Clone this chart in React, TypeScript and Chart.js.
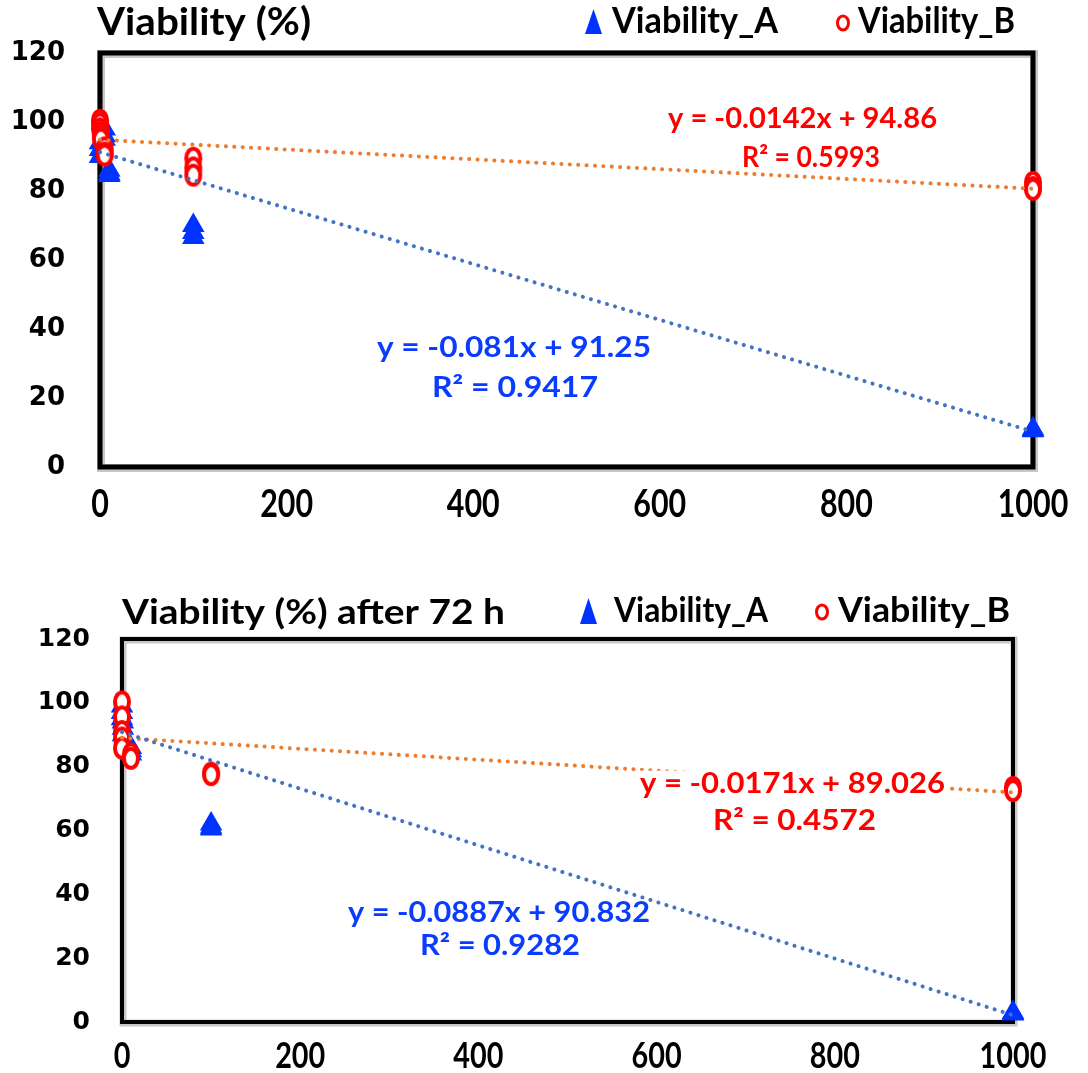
import React, { useEffect, useRef } from "react";
import { Chart, registerables } from "chart.js";
Chart.register(...registerables);

// ---------- Panel 1: Viability (%) ----------
const X_A_1 = [0, 0, 0, 5, 5, 5, 10, 10, 10, 100, 100, 100, 1000, 1000, 1000];
const Y_A_1 = [90, 92, 94, 98, 96, 95, 86, 85, 84.5, 70, 68, 66.5, 11, 10.5, 10.8];
const X_B_1 = [0, 0, 0, 1, 1, 1, 5, 5, 5, 100, 100, 100, 1000, 1000, 1000];
const Y_B_1 = [100.5, 99.5, 98, 97, 96, 95, 92.5, 91, 90.4, 89.5, 86.7, 84.6, 82.5, 81, 80.5];
const TREND_SLOPE_1 = [-0.081, -0.0142];
const TREND_INTERCEPT_1 = [91.25, 94.86];
const EQ_TEXT_1 = ["y = -0.081x + 91.25", "R² = 0.9417", "y = -0.0142x + 94.86", "R² = 0.5993"];

// ---------- Panel 2: Viability (%) after 72 h ----------
const X_A_2 = [0, 0, 0, 1, 1, 1, 10, 10, 10, 100, 100, 100, 1000, 1000, 1000];
const Y_A_2 = [99, 97, 95, 94, 92, 90, 86, 85, 84, 62, 61, 60.5, 3, 2.5, 2.8];
const X_B_2 = [0, 0, 0, 0, 0, 10, 10, 100, 100, 1000, 1000];
const Y_B_2 = [100.3, 95.6, 91, 89, 85.8, 84, 82.6, 78, 77.5, 73.5, 72.5];
const TREND_SLOPE_2 = [-0.0887, -0.0171];
const TREND_INTERCEPT_2 = [90.832, 89.026];
const EQ_TEXT_2 = ["y = -0.0887x + 90.832", "R² = 0.9282", "y = -0.0171x + 89.026", "R² = 0.4572"];

// ---------- Axes ----------
const X_MIN = 0;
const X_MAX = 1000;
const X_STEP = 200;
const Y_MIN = 0;
const Y_MAX = 120;
const Y_STEP = 20;

const TITLES = ["Viability (%)", "Viability (%) after 72 h"];
const LEGEND_LABELS = ["Viability_A", "Viability_B"];

const BLUE = "#0033FF";
const RED = "#FF0000";
const TREND_BLUE = "#4472C4";
const TREND_ORANGE = "#ED7D31";
const EQ_BLUE = "#0A3CFF";

const FIT_FONT = '"Lato", "Liberation Sans", sans-serif';

type Layout = {
  top: number;
  height: number;
  plotLeft: number;
  plotRight: number;
  plotTop: number;
  plotBottom: number;
  yPad: number;
  yFont: number;
  xBase: number;
  xFont: number;
  xScale: number;
  frame: number;
  title: { x: number; base: number; w: number; size: number };
  legA: { tri: [number, number, number, number]; x: number; base: number; w: number; size: number };
  legB: { cx: number; cy: number; rx: number; ry: number; x: number; base: number; w: number; size: number };
  eq: { x: number; base: number; w: number; size: number; bg: boolean }[];
};

const LAYOUTS: Layout[] = [
  {
    top: 0,
    height: 540,
    plotLeft: 100,
    plotRight: 1033,
    plotTop: 53,
    plotBottom: 467,
    yPad: 35,
    yFont: 26,
    xBase: 517,
    xFont: 38,
    xScale: 0.8,
    frame: 5,
    title: { x: 97, base: 35, w: 214, size: 38 },
    legA: { tri: [585, 9, 602, 34], x: 612, base: 33, w: 166, size: 36 },
    legB: { cx: 843, cy: 23, rx: 5.5, ry: 7, x: 858, base: 33, w: 157, size: 36 },
    eq: [
      { x: 377, base: 357, w: 274, size: 28, bg: false },
      { x: 432, base: 397, w: 166, size: 28, bg: false },
      { x: 668, base: 128, w: 269, size: 28, bg: false },
      { x: 742, base: 167, w: 138, size: 28, bg: false },
    ],
  },
  {
    top: 540,
    height: 533,
    plotLeft: 122,
    plotRight: 1013,
    plotTop: 639,
    plotBottom: 1022,
    yPad: 32,
    yFont: 25,
    xBase: 1068,
    xFont: 36,
    xScale: 0.8,
    frame: 4,
    title: { x: 122, base: 624, w: 383, size: 35 },
    legA: { tri: [580, 598, 597, 624], x: 614, base: 622, w: 154, size: 34 },
    legB: { cx: 822, cy: 612, rx: 5.5, ry: 7, x: 838, base: 622, w: 172, size: 34 },
    eq: [
      { x: 348, base: 922, w: 302, size: 28, bg: false },
      { x: 420, base: 955, w: 160, size: 28, bg: false },
      { x: 640, base: 793, w: 305, size: 28, bg: true },
      { x: 713, base: 830, w: 163, size: 28, bg: false },
    ],
  },
];

function drawFit(ctx: CanvasRenderingContext2D, text: string, x: number, base: number, w: number, size: number, color: string, bg = false) {
  ctx.save();
  ctx.font = `bold ${size}px ${FIT_FONT}`;
  const m = ctx.measureText(text).width;
  if (bg) {
    ctx.fillStyle = "#FFFFFF";
    ctx.fillRect(x - 4, base - size * 0.8, w + 8, size * 1.05);
  }
  ctx.translate(x, base);
  ctx.scale(w / m, 1);
  ctx.fillStyle = color;
  ctx.textAlign = "left";
  ctx.textBaseline = "alphabetic";
  ctx.fillText(text, 0, 0);
  ctx.restore();
}

function makeRing(): HTMLCanvasElement {
  const c = document.createElement("canvas");
  c.width = 20;
  c.height = 25;
  const g = c.getContext("2d") as CanvasRenderingContext2D;
  g.fillStyle = "#FFFFFF";
  g.strokeStyle = RED;
  g.lineWidth = 4;
  g.beginPath();
  g.ellipse(10, 12.5, 7, 9.5, 0, 0, Math.PI * 2);
  g.fill();
  g.stroke();
  return c;
}

function pts(xs: number[], ys: number[]) {
  return xs.map((x, i) => ({ x, y: ys[i] }));
}

function trend(slope: number, intercept: number) {
  return [X_MIN, X_MAX].map((x) => ({ x, y: intercept + slope * x }));
}

function Panel({ idx }: { idx: number }) {
  const ref = useRef<HTMLCanvasElement | null>(null);
  useEffect(() => {
    const L = LAYOUTS[idx];
    const xa = idx === 0 ? X_A_1 : X_A_2;
    const ya = idx === 0 ? Y_A_1 : Y_A_2;
    const xb = idx === 0 ? X_B_1 : X_B_2;
    const yb = idx === 0 ? Y_B_1 : Y_B_2;
    const slopes = idx === 0 ? TREND_SLOPE_1 : TREND_SLOPE_2;
    const inters = idx === 0 ? TREND_INTERCEPT_1 : TREND_INTERCEPT_2;
    const eqText = idx === 0 ? EQ_TEXT_1 : EQ_TEXT_2;
    const off = L.top;
    const ring = makeRing();

    const framePlugin = {
      id: "frame" + idx,
      beforeDatasetsDraw(chart: any) {
        const { ctx, chartArea: a } = chart;
        ctx.save();
        ctx.strokeStyle = "rgba(0,0,0,0.22)";
        ctx.lineWidth = L.frame + 3;
        ctx.strokeRect(a.left + 1, a.top + 1, a.right - a.left, a.bottom - a.top);
        ctx.strokeStyle = "#000";
        ctx.lineWidth = L.frame;
        ctx.strokeRect(a.left, a.top, a.right - a.left, a.bottom - a.top);
        ctx.restore();
      },
      afterDatasetsDraw(chart: any) {
        const ctx = chart.ctx as CanvasRenderingContext2D;
        // x tick labels (from the library's own x scale ticks)
        const xs = chart.scales.x;
        xs.ticks.forEach((t: any) => {
          const px = xs.getPixelForValue(t.value);
          ctx.save();
          ctx.font = `bold ${L.xFont}px ${FIT_FONT}`;
          ctx.translate(px, L.xBase - off);
          ctx.scale(L.xScale, 1);
          ctx.fillStyle = "#000";
          ctx.textAlign = "center";
          ctx.textBaseline = "alphabetic";
          ctx.fillText(String(t.value), 0, 0);
          ctx.restore();
        });
        // title
        drawFit(ctx, TITLES[idx], L.title.x, L.title.base - off, L.title.w, L.title.size, "#000");
        // legend A
        const [x1, y1, x2, y2] = L.legA.tri;
        ctx.save();
        ctx.fillStyle = BLUE;
        ctx.beginPath();
        ctx.moveTo((x1 + x2) / 2, y1 - off);
        ctx.lineTo(x2, y2 - off);
        ctx.lineTo(x1, y2 - off);
        ctx.closePath();
        ctx.fill();
        ctx.restore();
        drawFit(ctx, LEGEND_LABELS[0], L.legA.x, L.legA.base - off, L.legA.w, L.legA.size, "#000");
        // legend B
        ctx.save();
        ctx.strokeStyle = RED;
        ctx.lineWidth = 3;
        ctx.beginPath();
        ctx.ellipse(L.legB.cx, L.legB.cy - off, L.legB.rx, L.legB.ry, 0, 0, Math.PI * 2);
        ctx.stroke();
        ctx.restore();
        drawFit(ctx, LEGEND_LABELS[1], L.legB.x, L.legB.base - off, L.legB.w, L.legB.size, "#000");
        // equations
        L.eq.forEach((e, i) => {
          drawFit(ctx, eqText[i], e.x, e.base - off, e.w, e.size, i < 2 ? EQ_BLUE : RED, e.bg);
        });
      },
    };

    const width = 1088;
    const xAxisH = L.height - (L.plotBottom - off) - 6;
    const chart = new Chart(ref.current as HTMLCanvasElement, {
      type: "scatter",
      data: {
        datasets: [
          {
            label: "trendA",
            data: trend(slopes[0], inters[0]),
            showLine: true,
            borderColor: TREND_BLUE,
            borderWidth: 4,
            borderDash: [0.1, 8.3],
            borderCapStyle: "round",
            pointRadius: 0,
            order: 0,
            clip: false,
          } as any,
          {
            label: "trendB",
            data: trend(slopes[1], inters[1]),
            showLine: true,
            borderColor: TREND_ORANGE,
            borderWidth: 4,
            borderDash: [0.1, 8.3],
            borderCapStyle: "round",
            pointRadius: 0,
            order: 0,
            clip: false,
          } as any,
          {
            label: LEGEND_LABELS[1],
            data: pts(xb, yb),
            pointStyle: ring,
            pointRadius: 10,
            order: 1,
            clip: false,
          } as any,
          {
            label: LEGEND_LABELS[0],
            data: pts(xa, ya),
            pointStyle: "triangle",
            pointRadius: 13,
            pointBorderWidth: 0,
            pointBorderColor: BLUE,
            pointBackgroundColor: BLUE,
            order: 2,
            clip: false,
          } as any,
        ],
      },
      options: {
        responsive: false,
        animation: false,
        events: [],
        layout: {
          padding: {
            left: 0,
            right: width - L.plotRight,
            top: L.plotTop - off,
            bottom: 6,
          },
        },
        plugins: {
          legend: { display: false },
          tooltip: { enabled: false },
          title: { display: false },
        },
        scales: {
          x: {
            type: "linear",
            min: X_MIN,
            max: X_MAX,
            ticks: {
              stepSize: X_STEP,
              color: "rgba(0,0,0,0)",
              padding: 10,
              maxRotation: 0,
              font: { family: FIT_FONT, weight: "bold", size: 30 },
            },
            grid: { display: false, drawTicks: false },
            border: { display: false },
            afterFit: (s: any) => {
              s.height = xAxisH;
            },
          },
          y: {
            type: "linear",
            min: Y_MIN,
            max: Y_MAX,
            ticks: {
              stepSize: Y_STEP,
              color: "#000",
              padding: L.yPad,
              font: { family: '"DejaVu Sans", sans-serif', weight: "bold", size: L.yFont },
            },
            grid: { display: false, drawTicks: false },
            border: { display: false },
            afterFit: (s: any) => {
              s.width = L.plotLeft;
            },
          },
        },
      } as any,
      plugins: [framePlugin],
    });
    return () => chart.destroy();
  }, [idx]);
  const L = LAYOUTS[idx];
  return (
    <canvas
      ref={ref}
      width={1088}
      height={L.height}
      style={{ position: "absolute", left: 0, top: L.top, width: 1088, height: L.height, display: "block" }}
    />
  );
}

export default function App() {
  return (
    <div style={{ position: "absolute", left: 0, top: 0, width: 1088, height: 1073, background: "#fff" }}>
      <Panel idx={0} />
      <Panel idx={1} />
    </div>
  );
}
